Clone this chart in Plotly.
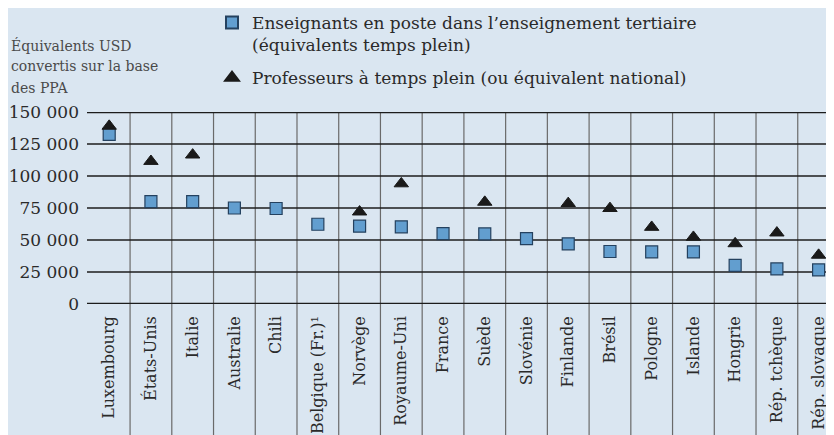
import plotly.graph_objects as go

categories = ["Luxembourg", "États-Unis", "Italie", "Australie", "Chili", "Belgique (Fr.)¹",
              "Norvège", "Royaume-Uni", "France", "Suède", "Slovénie", "Finlande", "Brésil",
              "Pologne", "Islande", "Hongrie", "Rép. tchèque", "Rép. slovaque"]
enseignants = [132500, 80000, 80000, 75000, 74600, 62300, 60800, 60300, 55000, 54800,
               51100, 47000, 41000, 40700, 40700, 30200, 27400, 26600]
professeurs = [139000, 111500, 116500, None, None, None, 72000, 94000, None, 79600,
               None, 78600, 74700, 60000, 52200, 47200, 55600, 38200]
tick_vals = [0, 25000, 50000, 75000, 100000, 125000, 150000]
tick_text = ["0", "25 000", "50 000", "75 000", "100 000", "125 000", "150 000"]
legend_names = ["Enseignants en poste dans l’enseignement tertiaire<br>(équivalents temps plein)",
                "Professeurs à temps plein (ou équivalent national)"]
axis_title_lines = ["Équivalents USD", "convertis sur la base", "des PPA"]

BG = "#dae6f1"
FONT = "DejaVu Serif"
W, H = 834, 435
OFF = 8  # page body margin offset
# target positions in page pixels
P_LEFT, P_TOP, P_BOTTOM = 87, 112, 304
ML = P_LEFT - OFF
MT = P_TOP - OFF
MB = H - (P_BOTTOM - OFF)
MR = 0
PH = H - MT - MB
PW = W - ML - MR
CAT_W = 41.73
FIRST_CENTER = 109.2  # page px
r0 = -(FIRST_CENTER - P_LEFT) / CAT_W
r1 = r0 + PW / CAT_W

def px_y(page_y):
    """page y pixel -> paper y"""
    return 1 - ((page_y - OFF) - MT) / PH

def px_x(page_x):
    return ((page_x - OFF) - ML) / PW

fig = go.Figure()
fig.add_trace(go.Scatter(
    x=categories, y=enseignants, mode="markers", name=legend_names[0], legendgroup="a",
    marker=dict(symbol="square", size=12, color="#629ecf",
                line=dict(color="#24415f", width=1.2)),
))
fig.add_trace(go.Scatter(
    x=categories, y=professeurs, mode="markers", name=legend_names[1], legendgroup="b",
    marker=dict(symbol="triangle-up", size=12.5, color="#1a1a1a",
                line=dict(color="#1a1a1a", width=1)),
))

# vertical separators between categories (extend through label area)
n = len(categories)
for i in range(n - 1):
    fig.add_shape(type="line", xref="x", yref="paper", x0=i + 0.5, x1=i + 0.5,
                  y0=-MB / PH, y1=1, line=dict(color="#6a6a6a", width=1.2), layer="below")
# horizontal gridlines
for v in tick_vals:
    w = 2.6 if v in (0, 150000) else 1.4
    fig.add_shape(type="line", xref="paper", yref="y", x0=0, x1=1, y0=v, y1=v,
                  line=dict(color="#1c1c1c", width=w), layer="below")

for txt, cy in zip(axis_title_lines, [45, 66.5, 88]):
    fig.add_annotation(text=txt, xref="paper", yref="paper",
                       x=px_x(9), y=px_y(cy), xanchor="left", yanchor="middle",
                       showarrow=False, align="left",
                       font=dict(family=FONT, size=14, color="#4a4a4a"))

fig.update_layout(
    width=W, height=H,
    margin=dict(l=ML, r=MR, t=MT, b=MB, pad=0, autoexpand=False),
    paper_bgcolor=BG, plot_bgcolor=BG,
    font=dict(family=FONT, size=17, color="#2a2a2a"),
    showlegend=True,
    legend=dict(x=px_x(212), y=px_y(5), xanchor="left", yanchor="top",
                bgcolor="rgba(0,0,0,0)", font=dict(family=FONT, size=17, color="#2a2a2a"),
                valign="top", traceorder="grouped", tracegroupgap=8, itemsizing="constant"),
    xaxis=dict(type="category", range=[r0, r1], automargin=False,
               showgrid=False, zeroline=False, showline=False, ticks="",
               tickangle=-90, ticklabelstandoff=8,
               tickfont=dict(family=FONT, size=16, color="#2a2a2a")),
    yaxis=dict(range=[0, 150000], tickvals=tick_vals, ticktext=tick_text, automargin=False,
               showgrid=False, zeroline=False, showline=False, ticks="",
               ticklabelstandoff=7,
               tickfont=dict(family=FONT, size=17, color="#2a2a2a")),
)

fig.write_html("out.html")
